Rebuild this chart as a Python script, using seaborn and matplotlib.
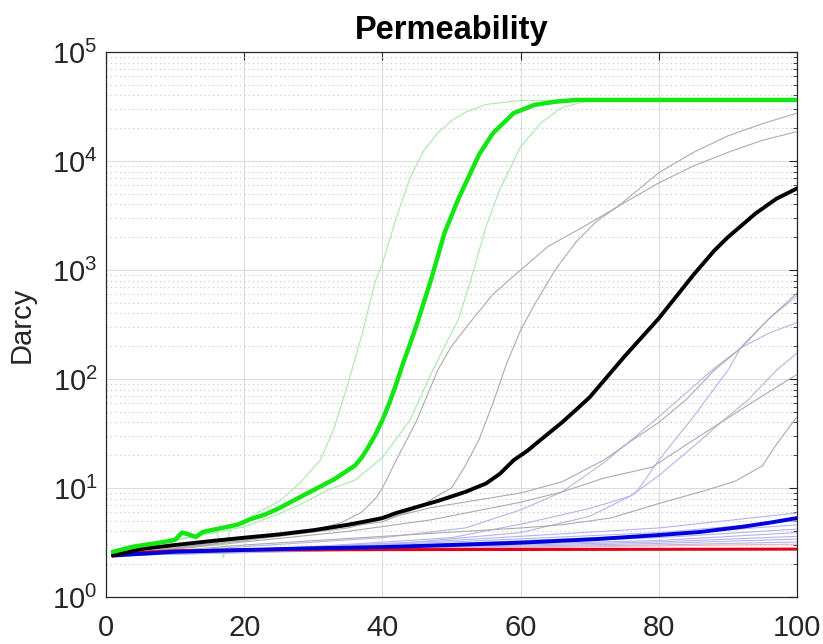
import numpy as np
import pandas as pd
import matplotlib
matplotlib.use("Agg")
import matplotlib.pyplot as plt
import seaborn as sns
from matplotlib.ticker import LogLocator, NullLocator, NullFormatter, FixedLocator

# ---------------- data ----------------
title_text = "Permeability"
ylabel_text = "Darcy"
x_ticks = [0, 20, 40, 60, 80, 100]

# bold mean curves
green_x = [1, 4, 7, 9, 10, 11, 12, 13, 14, 16, 19, 21, 23, 25, 28, 31, 33, 36, 37, 38, 39, 40, 41, 42, 43, 44, 45, 47, 49, 51, 54, 56, 59, 62, 65, 68, 80, 100]
green_y = [2.6, 2.9, 3.1, 3.25, 3.35, 3.9, 3.75, 3.55, 3.95, 4.2, 4.6, 5.2, 5.7, 6.5, 8.2, 10.3, 12, 16, 19, 24, 31, 42, 60, 90, 140, 210, 320, 800, 2200, 4500, 11500, 18000, 27500, 32700, 35000, 36300, 36300, 36300]

black_x = [1, 5, 10, 15, 20, 25, 30, 35, 38, 40, 42, 45, 48, 52, 55, 57, 59, 61, 63, 66, 68, 70, 75, 80, 85, 88, 90, 94, 97, 100]
black_y = [2.4, 2.75, 3.0, 3.25, 3.5, 3.75, 4.1, 4.6, 5.0, 5.3, 5.9, 6.7, 7.6, 9.2, 11, 13.5, 18, 22, 28, 40, 52, 68, 160, 360, 900, 1500, 2000, 3300, 4500, 5600]

blue_x = [1, 10, 20, 30, 40, 50, 60, 71, 80, 86, 92, 96, 100]
blue_y = [2.4, 2.6, 2.7, 2.8, 2.87, 3.0, 3.15, 3.4, 3.7, 3.95, 4.4, 4.8, 5.3]

red_x = [1, 10, 20, 40, 60, 100]
red_y = [2.5, 2.65, 2.7, 2.72, 2.73, 2.75]

# thin light-green sample curves
lgreen1_x = [1, 10, 15, 16, 17, 18, 20, 22, 25, 28, 31, 33, 35, 37, 39, 40, 42, 44, 46, 48, 50, 52, 55, 60, 100]
lgreen1_y = [2.6, 3.3, 4.0, 4.1, 2.3, 4.3, 5.0, 6.0, 7.5, 11, 18, 35, 90, 250, 800, 1150, 3000, 7000, 12500, 18000, 23500, 28000, 33000, 36000, 36300]
lgreen2_x = [1, 10, 20, 25, 28, 32, 36, 40, 44, 47, 49, 51, 53, 55, 57, 60, 63, 66, 70, 100]
lgreen2_y = [2.6, 3.3, 4.4, 5.8, 7.0, 9.5, 11.8, 19, 42, 110, 200, 350, 900, 2500, 5500, 13500, 22500, 31000, 36000, 36300]

# thin grey sample curves
greyA_x = [1, 20, 30, 34, 37, 39, 40, 42, 45, 48, 50, 53, 56, 60, 64, 69, 74, 80, 85, 90, 95, 100]
greyA_y = [2.4, 3.4, 4.1, 4.8, 6.0, 8.0, 10, 18, 42, 120, 200, 350, 600, 1000, 1650, 2470, 3800, 6300, 9000, 12000, 15500, 18600]
greyB_x = [1, 20, 40, 45, 48, 50, 52, 54, 56, 58, 60, 62, 65, 68, 71, 74, 80, 85, 90, 95, 100]
greyB_y = [2.4, 3.3, 4.9, 6.5, 8.5, 10, 16, 28, 60, 140, 280, 480, 1000, 1800, 2800, 3800, 7800, 12000, 17000, 22000, 27500]
greyC_x = [1, 20, 35, 47, 60, 66, 72, 76, 80, 84, 88, 92, 96, 100]
greyC_y = [2.4, 3.3, 4.3, 6.6, 9.0, 11.4, 18, 27, 40, 65, 120, 195, 360, 615]
greyD_x = [1, 20, 35, 47, 60, 66, 72, 79, 85, 89, 95, 100]
greyD_y = [2.4, 3.2, 4.0, 5.1, 7.4, 9.2, 12.3, 15.5, 27.5, 40, 70, 110]
greyE_x = [1, 20, 40, 60, 66, 73, 80, 87, 91, 95, 97, 100]
greyE_y = [2.4, 3.0, 3.6, 4.3, 4.6, 5.3, 7.2, 9.6, 11.5, 16, 25, 45]

# thin blue/purple sample curves
purpE_x = [1, 20, 40, 52, 60, 66, 72, 76, 80, 84, 88, 92, 96, 100]
purpE_y = [2.4, 2.9, 3.5, 4.3, 6.3, 9.2, 17, 27.5, 45, 75, 125, 195, 265, 330]
purpG_x = [1, 30, 50, 61, 70, 73, 76, 77, 80, 85, 90, 92, 96, 100]
purpG_y = [2.4, 2.9, 3.5, 4.8, 6.5, 7.4, 8.5, 9.6, 18, 45, 120, 200, 360, 580]
purpD_x = [1, 40, 60, 70, 76, 80, 85, 89, 93, 97, 100]
purpD_y = [2.4, 3.0, 3.9, 5.5, 8.5, 13, 24, 40, 65, 120, 173]
bundle_x = [1, 50, 80, 100]
bundle1_y = [2.4, 3.3, 4.3, 5.9]
bundle2_y = [2.4, 3.2, 3.9, 5.0]
bundle3_y = [2.4, 3.1, 3.7, 4.6]
bundle4_y = [2.4, 3.0, 3.5, 4.2]
bundle5_y = [2.4, 2.95, 3.3, 3.9]
bundle6_y = [2.4, 2.9, 3.2, 3.6]
bundle7_y = [2.4, 2.85, 3.1, 3.4]
bundle8_y = [2.4, 2.8, 3.0, 3.2]
pink_x = [1, 50, 80, 100]
pink_y = [2.5, 2.8, 2.95, 3.05]

# ---------------- assemble long table ----------------
series = [
    ("bundle1", bundle_x, bundle1_y), ("bundle2", bundle_x, bundle2_y),
    ("bundle3", bundle_x, bundle3_y), ("bundle4", bundle_x, bundle4_y),
    ("bundle5", bundle_x, bundle5_y), ("bundle6", bundle_x, bundle6_y),
    ("bundle7", bundle_x, bundle7_y), ("bundle8", bundle_x, bundle8_y),
    ("purpE", purpE_x, purpE_y), ("purpG", purpG_x, purpG_y), ("purpD", purpD_x, purpD_y),
    ("pink", pink_x, pink_y),
    ("greyA", greyA_x, greyA_y), ("greyB", greyB_x, greyB_y), ("greyC", greyC_x, greyC_y),
    ("greyD", greyD_x, greyD_y), ("greyE", greyE_x, greyE_y),
    ("lgreen1", lgreen1_x, lgreen1_y), ("lgreen2", lgreen2_x, lgreen2_y),
    ("red", red_x, red_y), ("blue", blue_x, blue_y),
    ("black", black_x, black_y), ("green", green_x, green_y),
]
rows = []
for name, xs, ys in series:
    for xv, yv in zip(xs, ys):
        rows.append((name, xv, yv))
df = pd.DataFrame(rows, columns=["series", "step", "perm"])

# styles
thin_purple = "#b4b4ea"
thin_grey = "#ababab"
thin_green = "#a8eaa8"
style = {}
for n in ["bundle1", "bundle2", "bundle3", "bundle4", "bundle5", "bundle6", "bundle7", "bundle8", "purpE", "purpG", "purpD"]:
    style[n] = (thin_purple, 0.8)
for n in ["greyA", "greyB", "greyC", "greyD", "greyE"]:
    style[n] = (thin_grey, 0.8)
style["pink"] = ("#f2b8c0", 0.9)
style["lgreen1"] = (thin_green, 0.8)
style["lgreen2"] = (thin_green, 0.8)
style["red"] = ("#e0001a", 2.2)
style["blue"] = ("#0000dc", 2.8)
style["black"] = ("#000000", 2.8)
style["green"] = ("#14e614", 3.2)

# ---------------- figure ----------------
sns.set_theme(style="white")
plt.rcParams["font.family"] = ["Liberation Sans", "DejaVu Sans"]
plt.rcParams["mathtext.fontset"] = "custom"
plt.rcParams["mathtext.rm"] = "Liberation Sans"
plt.rcParams["mathtext.it"] = "Liberation Sans:italic"
plt.rcParams["mathtext.bf"] = "Liberation Sans:bold"

fig = plt.figure(figsize=(8.23, 6.44), dpi=100)
ax = fig.add_axes([106 / 823, 47 / 644, 691 / 823, 545 / 644])

for z, (name, _, _) in enumerate(series):
    color, lw = style[name]
    sub = df[df["series"] == name]
    sns.lineplot(data=sub, x="step", y="perm", color=color, linewidth=lw,
                 estimator=None, sort=False, ax=ax, zorder=3 + z * 0.01)

ax.set_yscale("log")
ax.set_xlim(0, 100)
ax.set_ylim(1, 1e5)
ax.xaxis.set_major_locator(FixedLocator(x_ticks))
ax.xaxis.set_minor_locator(NullLocator())
ax.yaxis.set_major_locator(LogLocator(base=10, numticks=10))
ax.yaxis.set_minor_locator(LogLocator(base=10, subs=np.arange(2, 10), numticks=20))
ax.yaxis.set_minor_formatter(NullFormatter())

ax.grid(which="major", axis="both", color="#dcdcdc", linewidth=0.8, linestyle="-", zorder=0)
ax.yaxis.grid(which="minor", color="#c4c4c4", linewidth=0.8, linestyle=(0, (1, 3)), zorder=0)
ax.set_axisbelow(True)

for sp in ax.spines.values():
    sp.set_color("#262626")
    sp.set_linewidth(0.9)
    sp.set_visible(True)

ax.tick_params(which="both", direction="in", top=True, right=True, colors="#262626")
ax.tick_params(which="major", length=6, width=0.8, labelsize=21, labelcolor="#262626")
ax.tick_params(which="minor", length=3, width=0.6)
ax.tick_params(axis="x", which="major", pad=12)
ax.tick_params(axis="y", which="major", pad=6)

ax.set_xlabel("")
ax.set_ylabel(ylabel_text, fontsize=21, color="#262626", labelpad=12)
ax.set_title(title_text, fontsize=23.5, fontweight="bold", color="#000000", pad=9)

fig.savefig("out.png", dpi=100)
